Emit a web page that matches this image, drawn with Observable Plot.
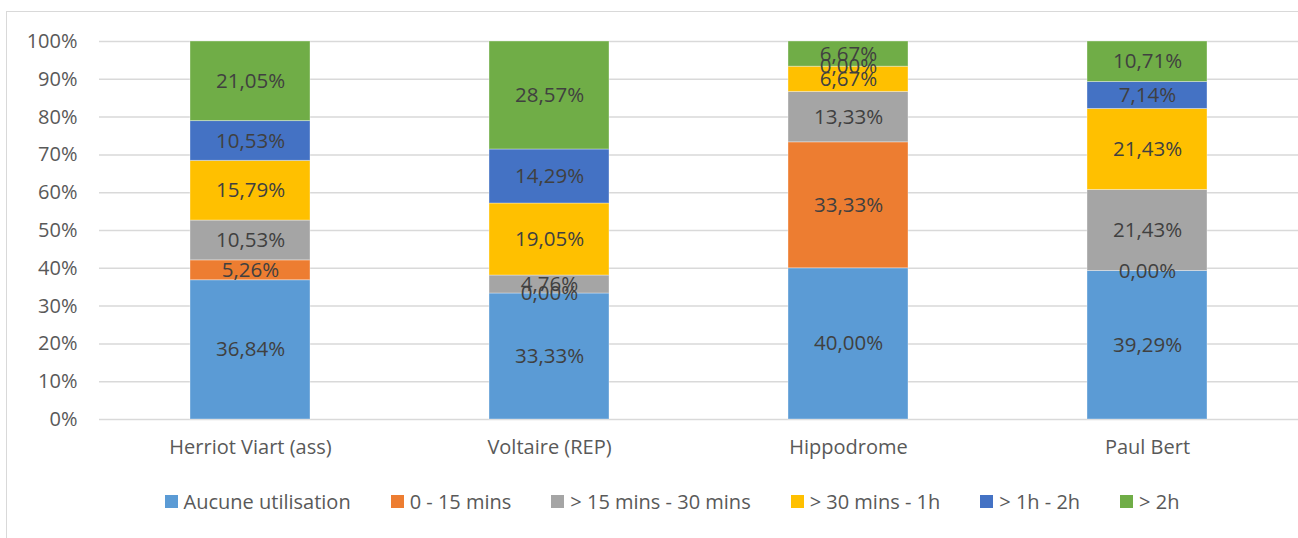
<!DOCTYPE html>
<html>
<head>
<meta charset="utf-8">
<script src="https://cdn.jsdelivr.net/npm/d3@7"></script>
<script src="https://cdn.jsdelivr.net/npm/@observablehq/plot@0.6"></script>
<style>
  html, body { margin: 0; padding: 0; background: #fff; overflow: hidden; }
  body { width: 1298px; height: 538px; position: relative; font-family: "Open Sans", sans-serif; }
  #frame { position: absolute; left: 6px; top: 11px; width: 1300px; height: 540px; border: 1px solid #d9d9d9; box-sizing: border-box; }
  #chart { position: absolute; left: 0; top: 0; }
  #legend { position: absolute; left: 0; top: 488px; width: 1298px; display: flex; justify-content: center; gap: 40px; font-size: 20px; color: #595959; padding-left: 46px; box-sizing: border-box; }
  .item { display: flex; align-items: center; gap: 6px; white-space: nowrap; }
  .sw { width: 13px; height: 13px; display: inline-block; }
</style>
</head>
<body>
<div id="frame"></div>
<div id="chart"></div>
<div id="legend"></div>
<script>
const categories = ["Herriot Viart (ass)", "Voltaire (REP)", "Hippodrome", "Paul Bert"];
const series = ["Aucune utilisation", "0 - 15 mins", "> 15 mins - 30 mins", "> 30 mins - 1h", "> 1h - 2h", "> 2h"];
const colors = ["#5B9BD5", "#ED7D31", "#A5A5A5", "#FFC000", "#4472C4", "#70AD47"];
const aucune   = [36.84, 33.33, 40.00, 39.29];
const m0_15    = [5.26, 0.00, 33.33, 0.00];
const m15_30   = [10.53, 4.76, 13.33, 21.43];
const m30_1h   = [15.79, 19.05, 6.67, 21.43];
const h1_2     = [10.53, 14.29, 0.00, 7.14];
const h2plus   = [21.05, 28.57, 6.67, 10.71];
const yTicks = [0, 10, 20, 30, 40, 50, 60, 70, 80, 90, 100];

const seriesValues = [aucune, m0_15, m15_30, m30_1h, h1_2, h2plus];
const data = [];
series.forEach((s, i) => categories.forEach((c, j) => data.push({cat: c, series: s, value: seriesValues[i][j]})));
const fmt = v => v.toFixed(2).replace(".", ",") + "%";

const chart = Plot.plot({
  width: 1298,
  height: 470,
  marginTop: 41,
  marginBottom: 51,
  marginLeft: 99,
  marginRight: 0,
  style: {fontFamily: "Open Sans, sans-serif", fontSize: "20px", background: "transparent"},
  x: {domain: categories, paddingInner: 0.6, paddingOuter: 0.3, label: null},
  y: {domain: [0, 100], label: null},
  color: {domain: series, range: colors},
  marks: [
    Plot.ruleY(yTicks, {stroke: "#d9d9d9", strokeWidth: 1.5}),
    Plot.barY(data, Plot.stackY({x: "cat", y: "value", z: "series", fill: "series", stroke: "#ffffff", strokeOpacity: 0.35, strokeWidth: 1})),
    Plot.text(data, Plot.stackY({x: "cat", y: "value", z: "series", text: d => fmt(d.value), fill: "#404040", fontSize: 20.5})),
    Plot.axisY(yTicks, {tickSize: 0, tickPadding: 22, tickFormat: d => d + "%", fill: "#595959", fontSize: 20, label: null}),
    Plot.axisX({tickSize: 0, tickPadding: 20, fill: "#595959", fontSize: 20, label: null})
  ]
});
document.getElementById("chart").appendChild(chart);

const legend = document.getElementById("legend");
series.forEach((s, i) => {
  const item = document.createElement("div");
  item.className = "item";
  const sw = document.createElement("span");
  sw.className = "sw";
  sw.style.background = colors[i];
  const t = document.createElement("span");
  t.textContent = s;
  item.appendChild(sw);
  item.appendChild(t);
  legend.appendChild(item);
});
</script>
</body>
</html>
